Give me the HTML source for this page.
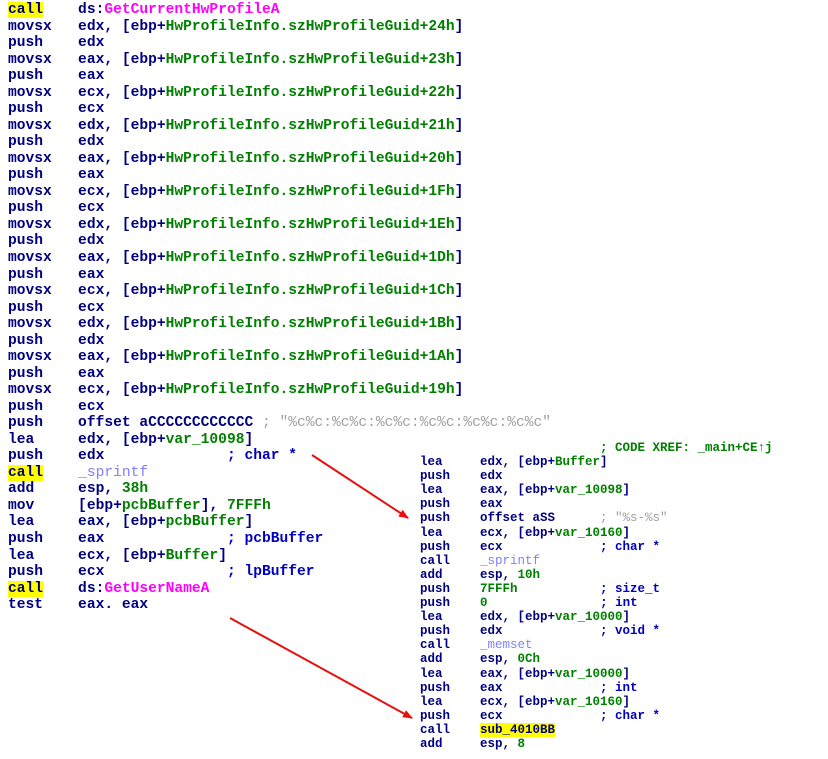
<!DOCTYPE html>
<html><head><meta charset="utf-8"><style>
body{margin:0;background:#fff;width:828px;height:759px;overflow:hidden;position:relative}
pre{position:absolute;margin:0;font-family:"Liberation Mono",monospace;font-weight:bold;color:#000080;white-space:pre}
#L{left:8px;top:2px;font-size:14.6px;line-height:16.53px}
#R{left:420px;top:441px;font-size:12.5px;line-height:14.1px}
.g{color:#008000}.m{color:#ff00ff}.s{color:#a0a0a0;font-weight:normal}.p{color:#8080ff;font-weight:normal}
.h{background:#ffff00}.c{color:#0000c0}
</style></head><body>
<pre id="L"><span class="h">call</span>    ds:<span class="m">GetCurrentHwProfileA</span>
movsx   edx, [ebp+<span class="g">HwProfileInfo.szHwProfileGuid+24h</span>]
push    edx
movsx   eax, [ebp+<span class="g">HwProfileInfo.szHwProfileGuid+23h</span>]
push    eax
movsx   ecx, [ebp+<span class="g">HwProfileInfo.szHwProfileGuid+22h</span>]
push    ecx
movsx   edx, [ebp+<span class="g">HwProfileInfo.szHwProfileGuid+21h</span>]
push    edx
movsx   eax, [ebp+<span class="g">HwProfileInfo.szHwProfileGuid+20h</span>]
push    eax
movsx   ecx, [ebp+<span class="g">HwProfileInfo.szHwProfileGuid+1Fh</span>]
push    ecx
movsx   edx, [ebp+<span class="g">HwProfileInfo.szHwProfileGuid+1Eh</span>]
push    edx
movsx   eax, [ebp+<span class="g">HwProfileInfo.szHwProfileGuid+1Dh</span>]
push    eax
movsx   ecx, [ebp+<span class="g">HwProfileInfo.szHwProfileGuid+1Ch</span>]
push    ecx
movsx   edx, [ebp+<span class="g">HwProfileInfo.szHwProfileGuid+1Bh</span>]
push    edx
movsx   eax, [ebp+<span class="g">HwProfileInfo.szHwProfileGuid+1Ah</span>]
push    eax
movsx   ecx, [ebp+<span class="g">HwProfileInfo.szHwProfileGuid+19h</span>]
push    ecx
push    offset aCCCCCCCCCCCC <span class="s">; "%c%c:%c%c:%c%c:%c%c:%c%c:%c%c"</span>
lea     edx, [ebp+<span class="g">var_10098</span>]
push    edx              <span class="c">; char *</span>
<span class="h">call</span>    <span class="p">_sprintf</span>
add     esp, <span class="g">38h</span>
mov     [ebp+<span class="g">pcbBuffer</span>], <span class="g">7FFFh</span>
lea     eax, [ebp+<span class="g">pcbBuffer</span>]
push    eax              <span class="c">; pcbBuffer</span>
lea     ecx, [ebp+<span class="g">Buffer</span>]
push    ecx              <span class="c">; lpBuffer</span>
<span class="h">call</span>    ds:<span class="m">GetUserNameA</span>
test    eax. eax</pre>
<pre id="R">                        <span class="g">; CODE XREF: _main+CE↑j</span>
lea     edx, [ebp+<span class="g">Buffer</span>]
push    edx
lea     eax, [ebp+<span class="g">var_10098</span>]
push    eax
push    offset aSS      <span class="s">; "%s-%s"</span>
lea     ecx, [ebp+<span class="g">var_10160</span>]
push    ecx             <span class="c">; char *</span>
call    <span class="p">_sprintf</span>
add     esp, <span class="g">10h</span>
push    <span class="g">7FFFh</span>           <span class="c">; size_t</span>
push    <span class="g">0</span>               <span class="c">; int</span>
lea     edx, [ebp+<span class="g">var_10000</span>]
push    edx             <span class="c">; void *</span>
call    <span class="p">_memset</span>
add     esp, <span class="g">0Ch</span>
lea     eax, [ebp+<span class="g">var_10000</span>]
push    eax             <span class="c">; int</span>
lea     ecx, [ebp+<span class="g">var_10160</span>]
push    ecx             <span class="c">; char *</span>
call    <span class="h">sub_4010BB</span>
add     esp, <span class="g">8</span></pre>
<svg width="828" height="759" style="position:absolute;left:0;top:0">
<defs><marker id="a" markerWidth="10" markerHeight="8" refX="9" refY="4" orient="auto" markerUnits="userSpaceOnUse"><path d="M0,0L10,4L0,8z" fill="#e8100c"/></marker></defs>
<line x1="312" y1="455" x2="408" y2="518" stroke="#e8100c" stroke-width="2" marker-end="url(#a)"/>
<line x1="230" y1="618" x2="412" y2="718" stroke="#e8100c" stroke-width="2" marker-end="url(#a)"/>
</svg>
</body></html>
